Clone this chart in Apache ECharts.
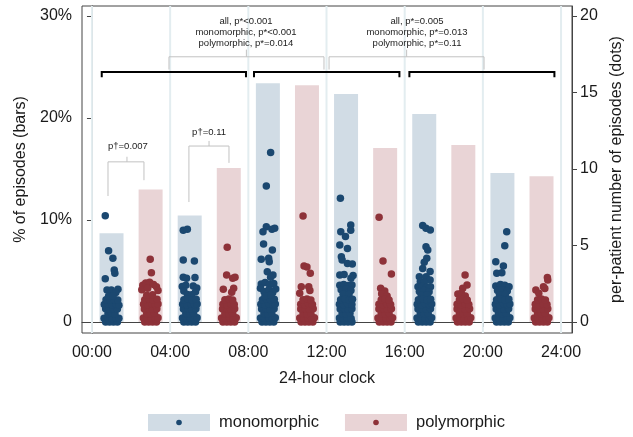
<!DOCTYPE html>
<html>
<head>
<meta charset="utf-8">
<script src="https://cdn.jsdelivr.net/npm/echarts@6.0.0/dist/echarts.min.js"></script>
<style>html,body{margin:0;padding:0;background:#fff}#c{width:633px;height:437px}</style>
</head>
<body>
<div id="c"></div>
<script>
// ---- data ----
const xTicks = [0, 4, 8, 12, 16, 20, 24];
const leftTicks = [0, 10, 20, 30];
const rightTicks = [0, 5, 10, 15, 20];
const monoHours = [1, 5, 9, 13, 17, 21];
const monoPct = [8.7, 10.45, 23.4, 22.35, 20.4, 14.6];
const polyHours = [3, 7, 11, 15, 19, 23];
const polyPct = [13.0, 15.1, 23.2, 17.06, 17.35, 14.3];

const monoDots = [
[0.68,6.95],[0.85,4.66],[1.07,4.16],[1.14,3.4],[1.17,3.18],[0.68,2.83],[0.77,2.09],[0.99,2.09],[1.33,2.14],[1.22,1.92],
[0.7,0],[0.9,0],[1.1,0],[1.3,0],[0.62,0.25],[0.82,0.28],[1.02,0.22],[1.22,0.27],[1.38,0.24],
[0.82,0.55],[1.0,0.58],[1.18,0.52],[0.7,0.86],[0.9,0.84],[1.1,0.88],[1.3,0.85],
[0.63,1.15],[0.83,1.18],[1.03,1.12],[1.23,1.16],[1.38,1.1],[0.72,1.45],[0.92,1.42],[1.13,1.47],[1.32,1.43],[0.85,1.68],[1.08,1.72],
[4.67,6.0],[4.88,6.06],[4.67,4.05],[5.24,3.99],[4.67,2.92],[4.84,2.85],[5.27,2.9],
[4.62,2.32],[4.8,2.4],[5.18,2.35],[5.36,2.22],[4.7,2.02],[5.3,1.98],[4.88,1.8],[5.1,1.78],
[4.7,0],[4.9,0],[5.1,0],[5.3,0],[4.63,0.26],[4.84,0.24],[5.04,0.28],[5.24,0.23],[5.38,0.27],
[4.8,0.56],[5.0,0.53],[5.2,0.57],[4.68,0.85],[4.9,0.88],[5.1,0.83],[5.32,0.86],
[4.64,1.16],[4.85,1.13],[5.06,1.18],[5.25,1.14],[5.38,1.18],[4.7,1.46],[4.92,1.5],[5.13,1.44],[5.33,1.48],
[9.14,11.07],[8.92,8.89],[8.92,6.23],[8.75,5.9],[9.21,6.06],[9.35,6.12],[8.78,5.1],[9.23,4.7],[8.66,4.1],[9.04,4.16],[9.07,3.94],[8.97,3.29],[9.26,3.07],[9.14,2.92],
[8.66,2.48],[8.86,2.58],[9.08,2.45],[9.3,2.52],[8.62,2.2],[9.4,2.16],[8.8,2.0],[9.05,2.1],[9.25,1.92],
[8.7,0],[8.9,0],[9.1,0],[9.3,0],[8.62,0.26],[8.83,0.24],[9.04,0.28],[9.24,0.23],[9.38,0.27],
[8.8,0.56],[9.0,0.53],[9.2,0.57],[8.68,0.85],[8.9,0.88],[9.1,0.83],[9.32,0.86],
[8.64,1.16],[8.85,1.13],[9.06,1.18],[9.25,1.14],[9.38,1.18],[8.72,1.46],[8.93,1.5],[9.14,1.44],[9.33,1.48],[8.85,1.72],[9.15,1.75],
[12.71,8.08],[13.24,6.34],[12.73,5.9],[13.24,6.0],[12.97,5.58],[12.68,5.03],[13.07,4.81],[12.76,4.27],[12.8,4.05],[13.07,3.83],[13.32,3.79],[12.68,3.07],[12.9,3.11],[13.36,3.03],[13.25,2.85],
[12.68,2.4],[12.88,2.45],[13.1,2.38],[13.3,2.42],[12.75,2.1],[13.0,2.15],[13.25,2.05],[12.85,1.82],[13.15,1.8],
[12.7,0],[12.9,0],[13.1,0],[13.3,0],[12.66,0.26],[12.86,0.24],[13.06,0.28],[13.26,0.23],
[12.8,0.56],[13.0,0.53],[13.2,0.57],[12.7,0.85],[12.9,0.88],[13.1,0.83],[13.3,0.86],
[12.66,1.16],[12.87,1.13],[13.08,1.18],[13.3,1.14],[12.72,1.46],[12.93,1.5],[13.14,1.44],[13.33,1.48],
[16.92,6.3],[17.09,6.12],[17.31,6.01],[17.09,4.92],[17.18,4.7],[17.13,4.16],[17.0,3.9],[16.92,3.5],[17.3,3.3],[16.75,2.96],[17.1,2.96],[17.3,2.75],[16.8,2.65],[17.0,2.6],
[16.68,2.3],[16.9,2.32],[17.12,2.28],[17.32,2.3],[16.75,2.0],[17.0,2.05],[17.25,1.98],[16.85,1.75],[17.15,1.76],
[16.7,0],[16.9,0],[17.1,0],[17.3,0],[16.63,0.26],[16.84,0.24],[17.04,0.28],[17.24,0.23],[17.38,0.27],
[16.8,0.56],[17.0,0.53],[17.2,0.57],[16.68,0.85],[16.9,0.88],[17.1,0.83],[17.32,0.86],
[16.64,1.16],[16.85,1.13],[17.06,1.18],[17.25,1.14],[17.38,1.18],[16.7,1.46],[16.92,1.5],[17.13,1.44],[17.33,1.48],
[21.22,5.9],[21.12,4.99],[20.66,3.94],[21.05,3.66],[20.71,3.18],[20.97,3.22],
[20.66,2.35],[20.9,2.45],[21.12,2.4],[21.34,2.3],[20.75,2.05],[21.0,2.1],[21.25,2.02],[20.85,1.78],[21.15,1.8],
[20.7,0],[20.9,0],[21.1,0],[21.3,0],[20.63,0.26],[20.84,0.24],[21.04,0.28],[21.24,0.23],[21.38,0.27],
[20.8,0.56],[21.0,0.53],[21.2,0.57],[20.68,0.85],[20.9,0.88],[21.1,0.83],[21.32,0.86],
[20.64,1.16],[20.85,1.13],[21.06,1.18],[21.25,1.14],[21.38,1.18],[20.7,1.46],[20.92,1.5],[21.13,1.44],[21.33,1.48]
];

const polyDots = [
[2.98,4.1],[3.04,3.22],[2.6,2.4],[2.75,2.55],[2.95,2.6],[3.15,2.45],[3.3,2.3],[2.55,2.1],[3.38,2.05],[2.85,2.2],
[2.7,0],[2.9,0],[3.1,0],[3.3,0],[2.63,0.26],[2.84,0.24],[3.04,0.28],[3.24,0.23],[3.38,0.27],
[2.8,0.56],[3.0,0.53],[3.2,0.57],[2.68,0.85],[2.9,0.88],[3.1,0.83],[3.32,0.86],
[2.64,1.16],[2.85,1.13],[3.06,1.18],[3.25,1.14],[3.38,1.18],[2.7,1.46],[2.92,1.5],[3.13,1.44],[3.33,1.48],[2.8,1.75],[3.1,1.78],
[6.92,4.88],[6.89,3.07],[7.32,2.92],[7.2,2.85],[6.72,2.14],[7.25,2.2],[7.15,1.95],
[6.7,0],[6.9,0],[7.1,0],[7.3,0],[6.63,0.26],[6.84,0.24],[7.04,0.28],[7.24,0.23],[7.38,0.27],
[6.8,0.56],[7.0,0.53],[7.2,0.57],[6.68,0.85],[6.9,0.88],[7.1,0.83],[7.3,0.86],
[6.7,1.16],[6.9,1.13],[7.1,1.18],[7.28,1.14],[6.8,1.46],[7.0,1.5],[7.2,1.44],
[10.8,6.93],[10.85,3.66],[11.0,3.6],[11.17,3.18],[10.71,2.3],[11.09,2.3],[10.63,1.87],[11.15,2.05],
[10.7,0],[10.9,0],[11.1,0],[11.3,0],[10.63,0.26],[10.84,0.24],[11.04,0.28],[11.24,0.23],[11.38,0.27],
[10.8,0.56],[11.0,0.53],[11.2,0.57],[10.68,0.85],[10.9,0.88],[11.1,0.83],[11.32,0.86],
[10.68,1.16],[10.88,1.13],[11.08,1.18],[11.28,1.14],[10.8,1.46],[11.0,1.5],[11.2,1.44],
[14.69,6.84],[14.89,3.99],[15.32,3.14],[14.77,2.2],[14.98,2.03],[14.82,1.85],[15.1,1.7],
[14.7,0],[14.9,0],[15.1,0],[15.3,0],[14.63,0.26],[14.84,0.24],[15.04,0.28],[15.24,0.23],[15.38,0.27],
[14.8,0.56],[15.0,0.53],[15.2,0.57],[14.68,0.85],[14.9,0.88],[15.1,0.83],[15.32,0.86],
[14.68,1.16],[14.88,1.13],[15.08,1.18],[15.28,1.14],[14.8,1.46],[15.0,1.5],[15.2,1.44],
[19.09,3.07],[19.19,2.42],[18.97,2.2],[18.72,1.83],[18.9,1.87],[19.1,1.7],
[18.7,0],[18.9,0],[19.1,0],[19.3,0],[18.63,0.26],[18.84,0.24],[19.04,0.28],[19.24,0.23],[19.38,0.27],
[18.8,0.56],[19.0,0.53],[19.2,0.57],[18.68,0.85],[18.9,0.88],[19.1,0.83],[19.32,0.86],
[18.68,1.16],[18.88,1.13],[19.08,1.18],[19.28,1.14],[18.8,1.46],[19.0,1.5],[19.2,1.44],
[23.3,2.9],[23.32,2.75],[23.1,2.3],[23.17,2.18],[22.71,2.09],[22.86,1.87],
[22.7,0],[22.9,0],[23.1,0],[23.3,0],[22.63,0.26],[22.84,0.24],[23.04,0.28],[23.24,0.23],[23.38,0.27],
[22.8,0.56],[23.0,0.53],[23.2,0.57],[22.68,0.85],[22.9,0.88],[23.1,0.83],[23.32,0.86],
[22.68,1.16],[22.88,1.13],[23.08,1.18],[23.28,1.14],[22.8,1.46],[23.0,1.5],[23.2,1.44]
];

// annotation labels (positions in hour / % units)
const bracketSpans = [[0.5, 7.88], [8.29, 15.73], [16.24, 23.66]];
const connectors = [
  [[3.94,24.75],[3.94,26.0],[11.87,26.0],[11.87,24.75]],
  [[7.9,26.0],[7.9,26.7]],
  [[12.13,24.75],[12.13,26.0],[20.06,26.0],[20.06,24.75]],
  [[16.1,26.0],[16.1,26.7]],
  [[0.82,12.35],[0.82,15.7],[2.66,15.7],[2.66,13.9]],
  [[1.79,15.7],[1.79,16.2]],
  [[4.96,11.76],[4.96,17.25],[7.01,17.25],[7.01,15.6]],
  [[5.99,17.25],[5.99,17.75]]
];
const annoTexts = [
  [7.88, 29.5, 'all, p*<0.001'],
  [7.88, 28.4, 'monomorphic, p*<0.001'],
  [7.88, 27.3, 'polymorphic, p*=0.014'],
  [16.63, 29.5, 'all, p*=0.005'],
  [16.63, 28.4, 'monomorphic, p*=0.013'],
  [16.63, 27.3, 'polymorphic, p*=0.11'],
  [1.84, 17.25, 'p\u2020=0.007'],
  [5.99, 18.6, 'p\u2020=0.11']
];

const FONT = '"Liberation Sans", Arial, Helvetica, sans-serif';
const X_MIN = -0.51, X_MAX = 24.56, YL_MIN = -1.08, YL_MAX = 30.98, YR_MIN = -0.72, YR_MAX = 20.65;
const BLUE_BAR = '#d1dce5', PINK_BAR = '#e9d4d6', BLUE_DOT = '#1b4870', RED_DOT = '#8e3239';

const chart = echarts.init(document.getElementById('c'), null, {renderer: 'canvas'});

function pad(v){ return (v < 10 ? '0' : '') + v + ':00'; }

const option = {
  animation: false,
  backgroundColor: '#fff',
  textStyle: {fontFamily: FONT},
  grid: {left: 82, right: 61, top: 6, bottom: 104, show: true, borderColor: '#444', borderWidth: 1, backgroundColor: 'transparent'},
  legend: {
    left: 143, top: 409, icon: 'rect', itemWidth: 62, itemHeight: 17, itemGap: 26,
    data: ['monomorphic', 'polymorphic'],
    textStyle: {fontSize: 16.5, color: '#1a1a1a', fontFamily: FONT, padding: [0,0,0,4]},
    selectedMode: false
  },
  xAxis: {
    type: 'value', min: X_MIN, max: X_MAX,
    axisLine: {show: true, lineStyle: {color: '#444', width: 1}},
    axisTick: {show: true, customValues: xTicks, length: 5, lineStyle: {color: '#444'}},
    axisLabel: {customValues: xTicks, formatter: pad, fontSize: 16, color: '#1a1a1a', margin: 12, fontFamily: FONT},
    splitLine: {show: false},
    name: '24-hour clock', nameLocation: 'middle', nameGap: 38,
    nameTextStyle: {fontSize: 16, color: '#1a1a1a', fontFamily: FONT}
  },
  yAxis: [
    {
      type: 'value', position: 'left', min: YL_MIN, max: YL_MAX,
      axisLine: {show: true, lineStyle: {color: '#444', width: 1}},
      axisTick: {show: true, customValues: leftTicks, length: 5, lineStyle: {color: '#444'}},
      axisLabel: {customValues: leftTicks, formatter: v => v === 0 ? '0' : v + '%', fontSize: 16, color: '#1a1a1a', margin: 10, fontFamily: FONT},
      splitLine: {show: false},
      name: '% of episodes (bars)', nameLocation: 'middle', nameGap: 44, nameRotate: 90,
      nameTextStyle: {fontSize: 16, color: '#1a1a1a', fontFamily: FONT}
    },
    {
      type: 'value', position: 'right', min: YR_MIN, max: YR_MAX,
      axisLine: {show: true, lineStyle: {color: '#444', width: 1}},
      axisTick: {show: true, customValues: rightTicks, length: 5, lineStyle: {color: '#444'}},
      axisLabel: {customValues: rightTicks, fontSize: 16, color: '#1a1a1a', margin: 8, fontFamily: FONT},
      splitLine: {show: false},
      name: 'per-patient number of episodes (dots)', nameLocation: 'middle', nameGap: 24, nameRotate: 90,
      nameTextStyle: {fontSize: 16, color: '#1a1a1a', fontFamily: FONT}
    }
  ],
  series: [
    {
      type: 'custom', name: 'grid', z: 1, silent: true, xAxisIndex: 0, yAxisIndex: 0,
      data: [[0, 0]],
      renderItem: function (params, api) {
        const children = xTicks.map(x => {
          const a = api.coord([x, YL_MIN]), b = api.coord([x, YL_MAX]);
          return {type: 'line', shape: {x1: a[0], y1: a[1], x2: b[0], y2: b[1]}, style: {stroke: '#e3edf0', lineWidth: 2}};
        });
        return {type: 'group', children};
      }
    },
    {
      type: 'bar', name: 'monomorphic', z: 2, barWidth: 24, barGap: '-100%',
      itemStyle: {color: BLUE_BAR},
      data: monoHours.map((h, i) => [h, monoPct[i]])
    },
    {
      type: 'bar', name: 'polymorphic', z: 2, barWidth: 24, barGap: '-100%',
      itemStyle: {color: PINK_BAR},
      data: polyHours.map((h, i) => [h, polyPct[i]])
    },
    {
      type: 'scatter', name: 'mono-dots', yAxisIndex: 1, z: 3, symbolSize: 7.5,
      itemStyle: {color: BLUE_DOT, opacity: 1}, data: monoDots
    },
    {
      type: 'scatter', name: 'poly-dots', yAxisIndex: 1, z: 3, symbolSize: 7.5,
      itemStyle: {color: RED_DOT, opacity: 1}, data: polyDots
    },
    {
      type: 'custom', name: 'annotations', z: 4, silent: true, xAxisIndex: 0, yAxisIndex: 0,
      data: [[0, 0]],
      renderItem: function (params, api) {
        const children = [];
        bracketSpans.forEach(([a, b]) => {
          children.push({type: 'polyline', shape: {points: [[a, 24.0], [a, 24.5], [b, 24.5], [b, 24.0]].map(p => api.coord(p))},
            style: {stroke: '#000', lineWidth: 2, fill: null}});
        });
        connectors.forEach(pts => {
          children.push({type: 'polyline', shape: {points: pts.map(p => api.coord(p))},
            style: {stroke: '#c2c2c2', lineWidth: 1, fill: null}});
        });
        annoTexts.forEach(t => {
          const p = api.coord([t[0], t[1]]);
          children.push({type: 'text', x: p[0], y: p[1], style: {text: t[2], align: 'center', verticalAlign: 'middle',
            fontSize: 9.5, fontFamily: FONT, fill: '#222'}});
        });
        return {type: 'group', children};
      }
    }
  ],
  graphic: [
    {type: 'circle', shape: {cx: 179, cy: 422.5, r: 2.8}, style: {fill: BLUE_DOT}, z: 100},
    {type: 'circle', shape: {cx: 376, cy: 422.5, r: 2.8}, style: {fill: RED_DOT}, z: 100}
  ]
};
chart.setOption(option);
</script>
</body>
</html>
